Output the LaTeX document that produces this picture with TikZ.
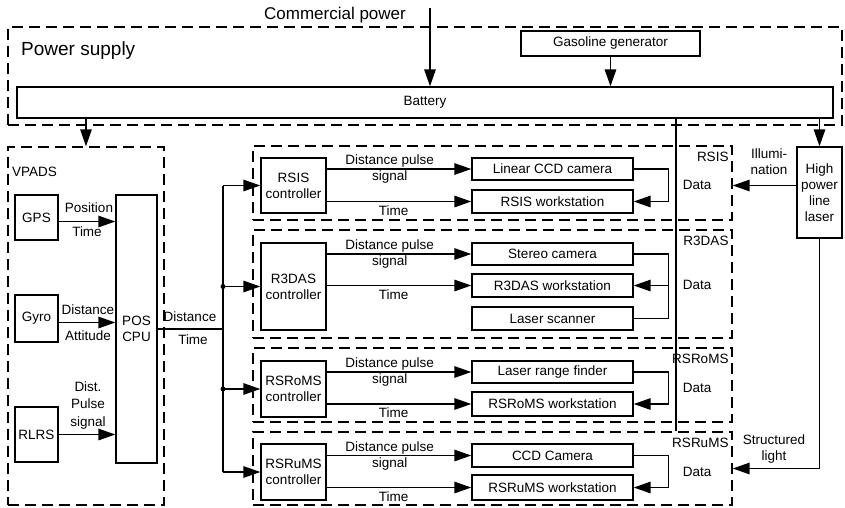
\documentclass[tikz,border=0pt]{standalone}
\usepackage{fontspec}
\setmainfont{Liberation Sans}
\usetikzlibrary{arrows.meta, positioning}

\begin{document}
\begin{tikzpicture}[
  x=1pt, y=-1pt,
  every node/.style={font=\fontsize{13.5}{16}\selectfont, inner sep=1pt, align=center},
  box/.style={draw, line width=1.4pt, inner sep=0pt},
  dev/.style={box, minimum width=161pt, minimum height=23pt},
  ctrl/.style={box, minimum width=65pt, minimum height=56pt},
  unit/.style={box, minimum width=43pt},
  group/.style={draw, line width=1.4pt, dash pattern=on 11pt off 6pt, inner sep=0pt},
  subsys/.style={group, minimum width=479pt},
  wire/.style={line width=1.5pt},
  arr/.style={wire, -{Triangle[length=17pt, width=11.5pt]}},
]
  \useasboundingbox (0,0) rectangle (845,507);

  % Power supply
  \node[group, minimum width=834pt, minimum height=98pt] (psbox) at (425,76) {};
  \node[anchor=west, font=\fontsize{19}{22}\selectfont] (pslbl) at (20,51) {Power supply};
  \node[font=\fontsize{17}{20}\selectfont] (cplbl) at (335,15) {Commercial power};
  \coordinate (cp) at (430,8);
  \node[box, minimum width=816pt, minimum height=31pt] (bat) at (425,102.5) {Battery};
  \node[box, minimum width=179pt, minimum height=25pt] (gen) at (610.5,43.5) {Gasoline generator};
  \draw[arr] (cp) -- (cp |- bat.north);
  \draw[arr] (gen.south) -- (gen.south |- bat.north);

  % VPADS
  \node[group, minimum width=156pt, minimum height=358pt] (vpads) at (86,326) {};
  \node[anchor=west] (vpadslbl) at (11,172) {VPADS};
  \node[unit, minimum height=45pt] (gps) at (36.5,217.5) {GPS};
  \node[unit, minimum height=47pt] (gyro) at (36.5,318.5) {Gyro};
  \node[unit, minimum height=55pt] (rlrs) at (36.5,434.5) {RLRS};
  \node[box, minimum width=41pt, minimum height=268pt] (cpu) at (136.5,329) {POS\\CPU};
  \draw[arr] ([yshift=-4pt]gps.east) -- ([yshift=-4pt]gps.east -| cpu.west);
  \draw[arr] ([yshift=-4pt]gyro.east) -- ([yshift=-4pt]gyro.east -| cpu.west);
  \draw[arr] (rlrs.east) -- (rlrs.east -| cpu.west);
  \node (gpsup) at (89,208) {Position};
  \node (gpsdn) at (87,232) {Time};
  \node (gyroup) at (88,310) {Distance};
  \node (gyrodn) at (88,336) {Attitude};
  \node (rlrsup) at (88,405) {Dist.\\[1.5pt]Pulse\\[1.5pt]signal};
  \draw[arr] (vpads.north |- bat.south) -- (vpads.north);

  % Subsystem groups
  \node[subsys, minimum height=74pt] (rsisbox) at (492.5,183) {};
  \node[subsys, minimum height=108pt] (r3dasbox) at (492.5,284) {};
  \node[subsys, minimum height=74pt] (rsromsbox) at (492.5,385) {};
  \node[subsys, minimum height=73pt] (rsrumsbox) at (492.5,468.5) {};

  % Controllers
  \node[ctrl, minimum height=55pt] (rsisc) at (293.5,185.5) {RSIS\\controller};
  \node[ctrl, minimum height=87pt] (r3dasc) at (293.5,286.5) {R3DAS\\controller};
  \node[ctrl] (rsromsc) at (293.5,389) {RSRoMS\\controller};
  \node[ctrl] (rsrumsc) at (293.5,472) {RSRuMS\\controller};

  % Devices
  \node[dev, minimum height=22pt] (lccd) at (552.5,169) {Linear CCD camera};
  \node[dev] (rsisws) at (552.5,201.5) {RSIS workstation};
  \node[dev, minimum height=22pt] (stereo) at (552.5,254) {Stereo camera};
  \node[dev] (r3dasws) at (552.5,285.5) {R3DAS workstation};
  \node[dev] (lscan) at (552.5,318.5) {Laser scanner};
  \node[dev, minimum height=22pt] (lrf) at (552.5,372) {Laser range finder};
  \node[dev, minimum height=24pt] (rsromsws) at (552.5,404) {RSRoMS workstation};
  \node[dev] (ccd) at (552.5,455.5) {CCD Camera};
  \node[dev, minimum height=25pt] (rsrumsws) at (552.5,487.5) {RSRuMS workstation};

  % Bus from POS CPU
  \coordinate (bus) at (223,329);
  \draw[wire] (cpu.east |- bus) -- (bus);
  \node (cpuup) at (190,317) {Distance};
  \node (cpudn) at (193,340) {Time};
  \draw[wire] (bus |- rsisc.west) -- (bus |- rsrumsc.west);
  \foreach \c in {rsisc, r3dasc, rsromsc, rsrumsc}
    \draw[arr] (bus |- \c.west) -- (\c.west);
  \fill (bus |- r3dasc.west) circle (2.5pt);
  \fill (bus |- rsromsc.west) circle (2.5pt);

  % Controller outputs
  \foreach \c/\a/\b in {rsisc/lccd/rsisws, r3dasc/stereo/r3dasws,
                        rsromsc/lrf/rsromsws, rsrumsc/ccd/rsrumsws} {
    \draw[arr] (\c.east |- \a.west) -- (\a.west);
    \draw[arr] (\c.east |- \b.west) -- (\b.west);
    \node at ([xshift=63pt]\c.east |- \a.west) {Distance pulse\\signal};
    \node at ([xshift=67pt,yshift=-9pt]\c.east |- \b.west) {Time};
  }

  % Data feedback
  \foreach \a/\b in {lccd/rsisws, lrf/rsromsws, ccd/rsrumsws}
    \draw[arr] (\a.east) -- ++(35,0) |- (\b.east);
  \draw[wire] (stereo.east) -- ++(35,0) coordinate (fb) -- (fb |- lscan.east) -- (lscan.east);
  \draw[arr] (fb |- r3dasws.east) -- (r3dasws.east);

  % Group labels
  \foreach \g/\t in {rsisbox/RSIS, r3dasbox/R3DAS, rsromsbox/RSRoMS, rsrumsbox/RSRuMS}
    \node[anchor=north east] at ([xshift=-3pt,yshift=-6pt]\g.north east) {\t};
  \node (d1) at (697,185) {Data};
  \node (d2) at (697,285) {Data};
  \node (d3) at (697,388) {Data};
  \node (d4) at (697,472) {Data};

  % Power line to subsystems
  \coordinate (pw) at (676,0);
  \draw[wire] (bat.south -| pw) -- (rsrumsbox.north -| pw);

  % Laser
  \node[box, minimum width=45pt, minimum height=91pt] (laser) at (819.5,192.5) {High\\power\\line\\laser};
  \draw[arr] (bat.south -| laser.north) -- (laser.north);
  \draw[arr] ([yshift=7pt]laser.west) -- ([yshift=7pt]laser.west -| rsisbox.east);
  \node (illum) at (769,162) {Illumi-\\nation};
  \draw[arr] (laser.south) |- (rsrumsbox.east);
  \node (slight) at (774,449) {Structured\\light};
\end{tikzpicture}
\end{document}
